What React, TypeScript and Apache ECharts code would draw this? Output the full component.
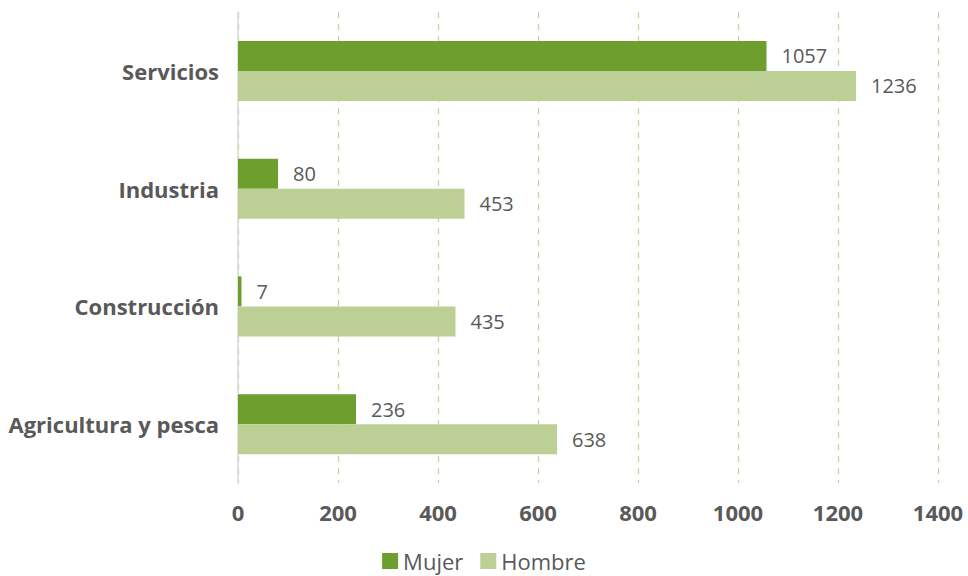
import React, { useEffect, useRef } from "react";
import * as echarts from "echarts";

const categories = ["Servicios", "Industria", "Construcción", "Agricultura y pesca"];
const mujer = [1057, 80, 7, 236];
const hombre = [1236, 453, 435, 638];
const seriesNames = ["Mujer", "Hombre"];

export default function App() {
  const ref = useRef<HTMLDivElement>(null);
  useEffect(() => {
    document.body.style.margin = "0";
    document.body.style.overflow = "hidden";
    const chart = echarts.init(ref.current!, null, { renderer: "svg" });
    const font = "'Open Sans', sans-serif";
    chart.setOption({
      animation: false,
      textStyle: { fontFamily: font },
      grid: { left: 238, right: 30, top: 12, bottom: 93, containLabel: false },
      legend: {
        top: 545,
        left: "center",
        itemWidth: 16,
        itemHeight: 16,
        itemGap: 17,
        icon: "rect",
        textStyle: { fontSize: 22, color: "#595959", fontFamily: font },
        data: seriesNames,
      },
      xAxis: {
        type: "value",
        min: 0,
        max: 1400,
        interval: 200,
        axisLine: { show: false },
        axisTick: { show: false },
        axisLabel: {
          fontSize: 22,
          fontWeight: "bold",
          color: "#595959",
          margin: 18,
          fontFamily: font,
          formatter: (v: number) => String(v),
        },
        splitLine: {
          show: true,
          lineStyle: { color: "#c3d69b", type: [6, 6], width: 1.3 },
        },
      },
      yAxis: {
        type: "category",
        data: categories,
        inverse: true,
        axisLine: { show: true, lineStyle: { color: "#d9d9d9", width: 1.5 } },
        axisTick: { show: false },
        axisLabel: { fontSize: 22, fontWeight: "bold", color: "#595959", margin: 19, fontFamily: font },
      },
      series: [
        {
          name: seriesNames[0],
          type: "bar",
          data: mujer,
          barWidth: 30,
          barGap: "0%",
          itemStyle: { color: "#6e9f2e" },
          label: { show: true, position: "right", distance: 15, fontSize: 20, color: "#595959", fontFamily: font },
        },
        {
          name: seriesNames[1],
          type: "bar",
          data: hombre,
          barWidth: 30,
          barGap: "0%",
          itemStyle: { color: "#bccf95" },
          label: { show: true, position: "right", distance: 15, fontSize: 20, color: "#595959", fontFamily: font },
        },
      ],
    });
    return () => chart.dispose();
  }, []);
  return <div ref={ref} style={{ width: 968, height: 576 }} />;
}
